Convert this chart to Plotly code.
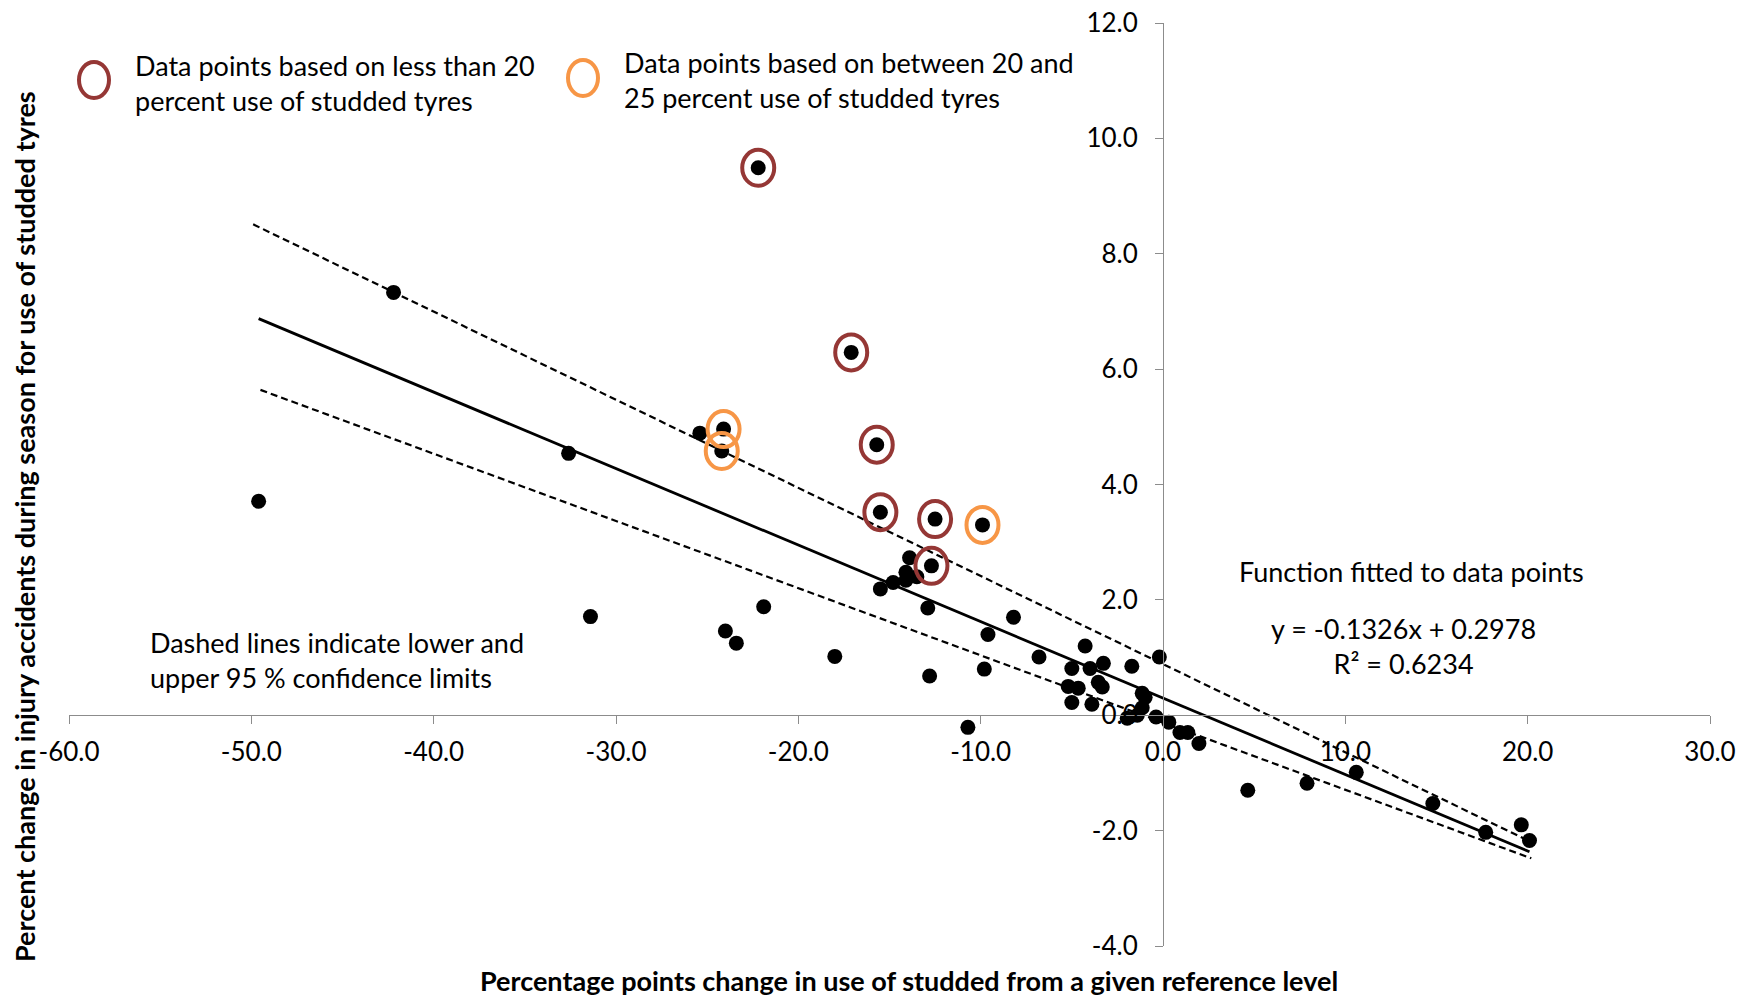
import plotly.graph_objects as go

# ---- data ----
pt_x = [-49.6, -42.2, -32.6, -31.4, -25.4, -24.1, -24.2, -24.0, -23.4, -22.2,
        -21.9, -18.0, -17.1, -15.7, -15.5, -15.5, -14.8, -14.1, -14.1, -13.9,
        -13.5, -12.9, -12.8, -12.7, -12.5, -10.7, -9.9, -9.8, -9.6, -8.2,
        -6.8, -5.2, -5.0, -5.0, -4.65, -4.27, -4.0, -3.9, -3.55, -3.33,
        -3.27, -1.96, -1.71, -1.41, -1.14, -0.98, -1.14, -0.38, -0.2, 0.32,
        0.93, 1.36, 1.97, 4.65, 7.9, 10.6, 14.8, 17.7, 19.65, 20.1]
pt_y = [3.71, 7.33, 4.54, 1.71, 4.89, 4.96, 4.58, 1.46, 1.25, 9.49,
        1.88, 1.02, 6.29, 4.69, 3.52, 2.19, 2.30, 2.48, 2.34, 2.73,
        2.40, 1.86, 0.68, 2.59, 3.40, -0.21, 3.30, 0.80, 1.40, 1.70,
        1.01, 0.50, 0.81, 0.22, 0.47, 1.20, 0.81, 0.19, 0.57, 0.49,
        0.90, -0.05, 0.85, 0.00, 0.38, 0.31, 0.13, -0.03, 1.01, -0.12,
        -0.30, -0.30, -0.49, -1.30, -1.18, -0.99, -1.53, -2.03, -1.90, -2.17]
# group: "low" = <20 % studded tyre use, "mid" = 20-25 %, "" = other
pt_group = ["", "", "", "", "", "mid", "mid", "", "", "low",
            "", "", "low", "low", "low", "", "", "", "", "",
            "", "", "", "low", "low", "", "mid", "", "", "",
            "", "", "", "", "", "", "", "", "", "",
            "", "", "", "", "", "", "", "", "", "",
            "", "", "", "", "", "", "", "", "", ""]

slope = -0.1326
intercept = 0.2978
trend_x = [-49.6, 20.1]
upper_x = [-49.9, 20.2]
upper_y = [8.51, -2.20]
lower_x = [-49.5, 20.2]
lower_y = [5.64, -2.48]

x_ticks = [-60, -50, -40, -30, -20, -10, 0, 10, 20, 30]
x_tick_labels = ["-60.0", "-50.0", "-40.0", "-30.0", "-20.0", "-10.0", "0.0", "10.0", "20.0", "30.0"]
y_ticks = [-4, -2, 0, 2, 4, 6, 8, 10, 12]
y_tick_labels = ["-4.0", "-2.0", "0.0", "2.0", "4.0", "6.0", "8.0", "10.0", "12.0"]

BROWN = "#953735"
ORANGE = "#F79646"
FONT = "Lato"

W, H = 1742, 997
ML, MR, MT, MB = 69, 32, 23, 51
PW, PH = W - ML - MR, H - MT - MB


def px(x):
    return (x - ML) / PW


def py(y):
    return (H - MB - y) / PH


fig = go.Figure()

trend_y = [slope * v + intercept for v in trend_x]
fig.add_trace(go.Scatter(x=upper_x, y=upper_y, mode="lines",
                         line=dict(color="black", width=2.2, dash="7px,4px"), hoverinfo="skip"))
fig.add_trace(go.Scatter(x=lower_x, y=lower_y, mode="lines",
                         line=dict(color="black", width=2.2, dash="7px,4px"), hoverinfo="skip"))
fig.add_trace(go.Scatter(x=trend_x, y=trend_y, mode="lines",
                         line=dict(color="black", width=2.8), hoverinfo="skip"))

# rings (slightly taller than wide, as in the reference)
for x, y, g in zip(pt_x, pt_y, pt_group):
    if g:
        col = BROWN if g == "low" else ORANGE
        fig.add_shape(type="circle", xref="x", yref="y", xsizemode="pixel", ysizemode="pixel",
                      xanchor=x, yanchor=y, x0=-16, x1=16, y0=-18, y1=18,
                      line=dict(color=col, width=4), layer="above")

fig.add_trace(go.Scatter(x=pt_x, y=pt_y, mode="markers",
                         marker=dict(symbol="circle", size=15, color="black")))

axis_common = dict(showgrid=False, zeroline=False, showline=True, linecolor="#8c8c8c",
                   linewidth=1, ticks="outside", ticklen=8, tickcolor="#8c8c8c", automargin=False,
                   tickfont=dict(family=FONT, size=26, color="black"))
fig.update_layout(
    width=W, height=H, paper_bgcolor="white", plot_bgcolor="white", showlegend=False,
    margin=dict(l=ML, r=MR, t=MT, b=MB, autoexpand=False),
    xaxis=dict(range=[-60, 30], tickvals=x_ticks, ticktext=x_tick_labels,
               anchor="free", position=0.25, ticklabelstandoff=6, **axis_common),
    yaxis=dict(range=[-4, 12], tickvals=y_ticks, ticktext=y_tick_labels,
               anchor="free", position=60 / 90, ticklabelstandoff=12, **axis_common),
)

# legend-like rings
for cx, cy, col in ((94, 80, BROWN), (583, 78, ORANGE)):
    fig.add_shape(type="circle", xref="paper", yref="paper", xsizemode="pixel", ysizemode="pixel",
                  xanchor=px(cx), yanchor=py(cy), x0=-15, x1=15, y0=-18, y1=18,
                  line=dict(color=col, width=4))

txt_font = dict(family=FONT, size=27, color="black")
ann = [
    dict(x=px(133), y=py(83), text="Data points based on less than 20<br>percent use of studded tyres",
         xanchor="left", align="left"),
    dict(x=px(622), y=py(80), text="Data points based on between 20 and<br>25 percent use of studded tyres",
         xanchor="left", align="left"),
    dict(x=px(1411), y=py(571), text="Function fitted to data points", xanchor="center"),
    dict(x=px(1403), y=py(646), text="y = -0.1326x + 0.2978<br>R² = 0.6234", xanchor="center", align="center"),
    dict(x=px(148), y=py(660), text="Dashed lines indicate lower and<br>upper 95 % confidence limits",
         xanchor="left", align="left"),
]
for a in ann:
    fig.add_annotation(xref="paper", yref="paper", showarrow=False, yanchor="middle",
                       font=txt_font, **a)

fig.add_annotation(xref="paper", yref="paper", x=px(909), y=py(981), showarrow=False,
                   text="<b>Percentage points change in use of studded from a given reference level</b>",
                   font=dict(family=FONT, size=27, color="black"), xanchor="center", yanchor="middle")
fig.add_annotation(xref="paper", yref="paper", x=px(24), y=py(527), showarrow=False, textangle=-90,
                   text="<b>Percent change in injury accidents during season for use of studded tyres</b>",
                   font=dict(family=FONT, size=27, color="black"), xanchor="center", yanchor="middle")

fig.write_html("out.html", config={"displayModeBar": False},
               post_script="document.body.style.margin='0';document.body.style.overflow='hidden';")
